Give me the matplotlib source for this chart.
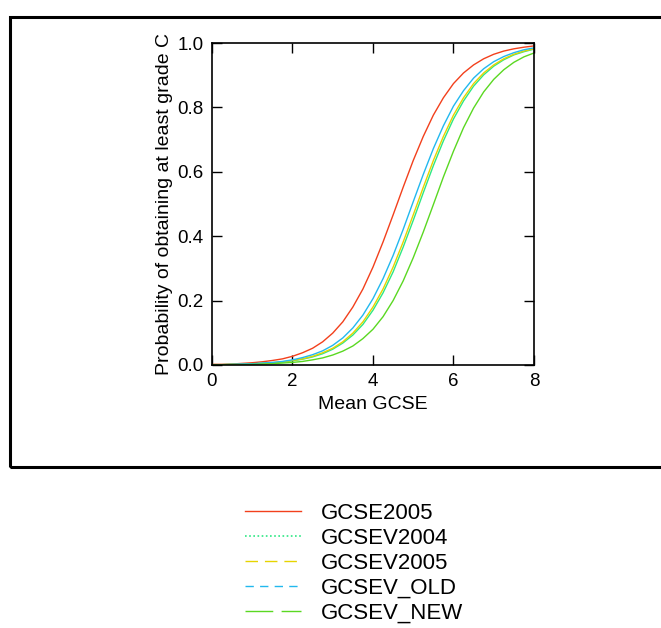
#!/usr/bin/env python3
"""Probability of at least grade C against mean GCSE, five fitted curves."""

import matplotlib

matplotlib.use("Agg")
import matplotlib.pyplot as plt
from matplotlib.lines import Line2D
from matplotlib.patches import Rectangle

plt.rcParams["font.family"] = ["Liberation Sans", "DejaVu Sans"]

mean_gcse = [0.0, 0.25, 0.5, 0.75, 1.0, 1.25, 1.5, 1.75, 2.0, 2.25, 2.5, 2.75,
             3.0, 3.25, 3.5, 3.75, 4.0, 4.25, 4.5, 4.75, 5.0, 5.25, 5.5, 5.75,
             6.0, 6.25, 6.5, 6.75, 7.0, 7.25, 7.5, 7.75, 8.0]

gcse2005 = [0.002, 0.002, 0.003, 0.005, 0.007, 0.010, 0.014, 0.019, 0.027, 0.038,
            0.052, 0.072, 0.099, 0.134, 0.180, 0.236, 0.304, 0.382, 0.466, 0.552,
            0.635, 0.710, 0.776, 0.830, 0.874, 0.907, 0.932, 0.951, 0.965, 0.975,
            0.982, 0.987, 0.991]
gcsev2004 = [0.001, 0.001, 0.002, 0.002, 0.003, 0.005, 0.006, 0.009, 0.013, 0.018,
             0.025, 0.035, 0.049, 0.068, 0.093, 0.126, 0.170, 0.224, 0.289, 0.366,
             0.449, 0.535, 0.619, 0.696, 0.764, 0.820, 0.866, 0.901, 0.928, 0.948,
             0.963, 0.973, 0.981]
gcsev2005 = [0.001, 0.001, 0.002, 0.002, 0.003, 0.005, 0.007, 0.010, 0.014, 0.019,
             0.027, 0.038, 0.052, 0.072, 0.099, 0.134, 0.180, 0.236, 0.304, 0.382,
             0.466, 0.552, 0.635, 0.710, 0.776, 0.830, 0.874, 0.907, 0.932, 0.951,
             0.965, 0.975, 0.982]
gcsev_old = [0.001, 0.001, 0.002, 0.003, 0.004, 0.006, 0.008, 0.011, 0.016, 0.023,
             0.032, 0.044, 0.061, 0.084, 0.115, 0.155, 0.206, 0.268, 0.340, 0.421,
             0.507, 0.592, 0.672, 0.743, 0.804, 0.852, 0.891, 0.920, 0.942, 0.958,
             0.970, 0.979, 0.985]
gcsev_new = [0.001, 0.001, 0.001, 0.001, 0.002, 0.003, 0.004, 0.006, 0.008, 0.011,
             0.016, 0.022, 0.031, 0.043, 0.059, 0.082, 0.111, 0.150, 0.200, 0.261,
             0.333, 0.413, 0.498, 0.584, 0.664, 0.737, 0.798, 0.848, 0.887, 0.917,
             0.940, 0.957, 0.969]

x_ticks = [0, 2, 4, 6, 8]
y_ticks = [0.0, 0.2, 0.4, 0.6, 0.8, 1.0]

# (label, values, colour, legend dash pattern)
series = [
    ("GCSE2005", gcse2005, "#f2401c", "-"),
    ("GCSEV2004", gcsev2004, "#2ee884", (0, (1, 1.5))),
    ("GCSEV2005", gcsev2005, "#e6d400", (0, (9, 5))),
    ("GCSEV_OLD", gcsev_old, "#22b8ee", (0, (6, 4.5))),
    ("GCSEV_NEW", gcsev_new, "#5ad822", (0, (20, 6))),
]

fig = plt.figure(figsize=(6.61, 6.28), dpi=100)
ax = fig.add_axes([0.3207, 0.4188, 0.4871, 0.5127])

handles = []
for label, values, color, style in series:
    # curves come out as solid lines in the plot, dashes only show in the key
    ax.plot(mean_gcse, values, color=color, lw=1.0)
    lw = 1.2 if label == "GCSEV2004" else 1.0
    handles.append(Line2D([], [], color=color, lw=lw, ls=style, label=label))

ax.set_xlim(0, 8)
ax.set_ylim(0, 1)
ax.set_xticks(x_ticks)
ax.set_yticks(y_ticks)
ax.set_yticklabels([f"{v:.1f}" for v in y_ticks])
ax.tick_params(direction="in", length=7, width=1.0, top=True, right=True,
               labelsize=13.5, pad=6)
for spine in ax.spines.values():
    spine.set_linewidth(1.2)
ax.set_xlabel("Mean GCSE", fontsize=14, labelpad=4)
ax.set_ylabel("Probability of obtaining at least grade C", fontsize=14, labelpad=3)

# outer frame around the plot area (runs off the right edge)
fig.patches.append(Rectangle((0.0144, 0.2564), 1.2, 0.7166, transform=fig.transFigure,
                             fill=False, edgecolor="black", linewidth=2.2))

fig.legend(handles=handles, loc="upper left", bbox_to_anchor=(0.3707, 0.1994),
           frameon=False, fontsize=16, handlelength=2.5, handletextpad=0.9,
           labelspacing=0.18, borderpad=0, borderaxespad=0)

fig.savefig("out.png", dpi=100)
